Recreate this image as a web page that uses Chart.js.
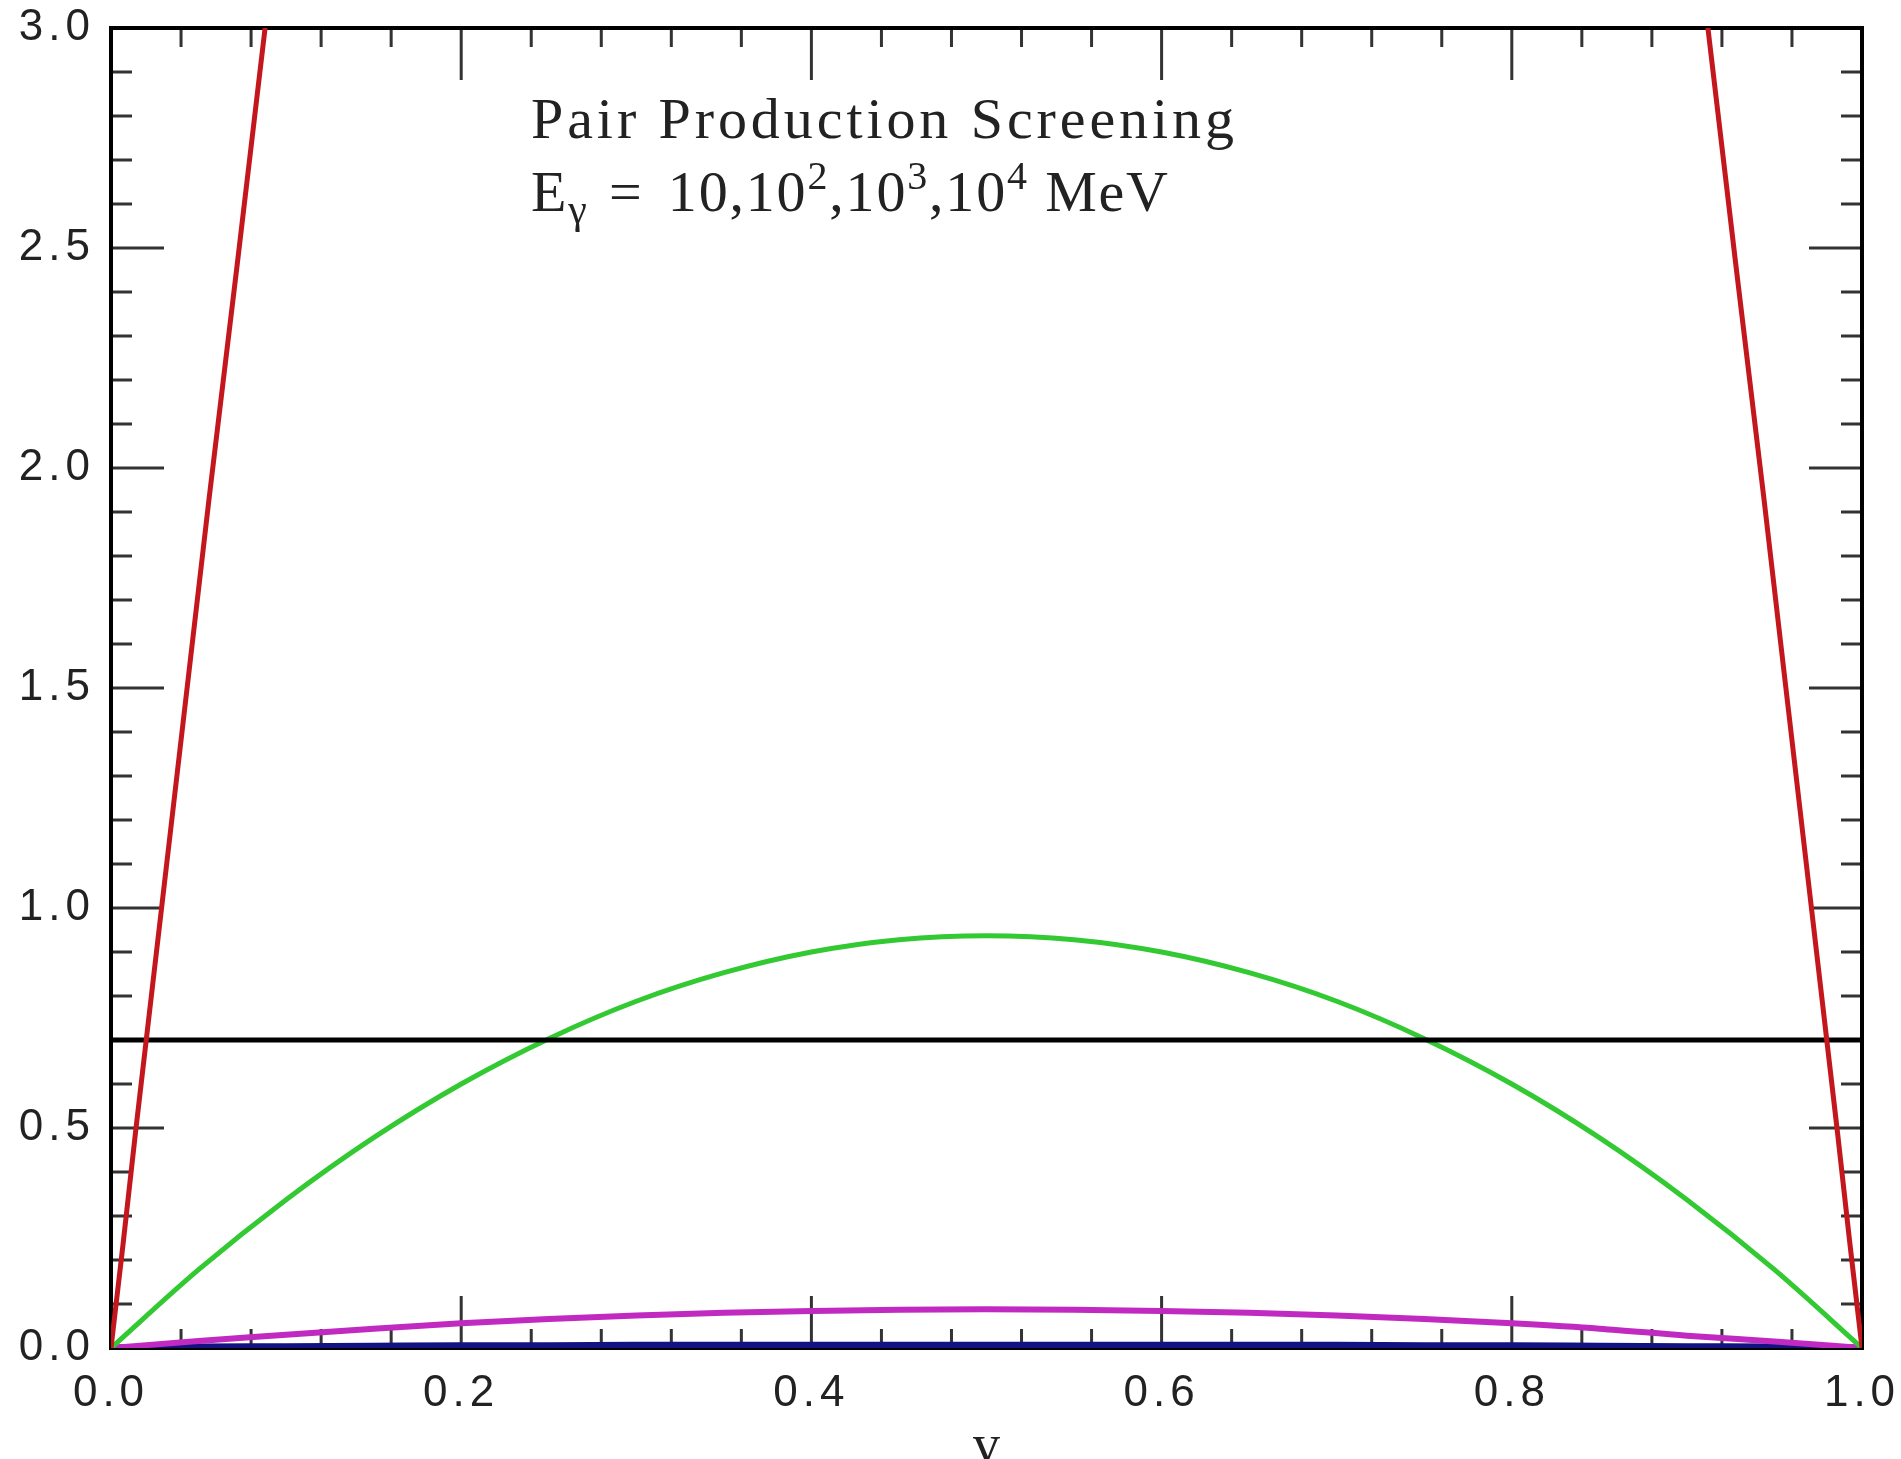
<!DOCTYPE html>
<html>
<head>
<meta charset="utf-8">
<script src="https://cdn.jsdelivr.net/npm/chart.js@4.4.1/dist/chart.umd.min.js"></script>
<style>
  html, body { margin: 0; padding: 0; background: #fff; }
  #wrap { width: 1901px; height: 1459px; }
</style>
</head>
<body>
<div id="wrap"><canvas id="screening" width="1901" height="1459"></canvas></div>
<script>
// v sampled every 0.05 for the smooth curves
const vValues = [0, 0.05, 0.10, 0.15, 0.20, 0.25, 0.30, 0.35, 0.40, 0.45, 0.50,
                 0.55, 0.60, 0.65, 0.70, 0.75, 0.80, 0.85, 0.90, 0.95, 1.00];
const greenValues = [0, 0.178, 0.337, 0.478, 0.600, 0.703, 0.788, 0.853, 0.900, 0.928, 0.937,
                     0.928, 0.900, 0.853, 0.788, 0.703, 0.600, 0.478, 0.337, 0.178, 0];
const magentaValues = [0, 0.016, 0.030, 0.044, 0.056, 0.066, 0.074, 0.080, 0.084, 0.087, 0.088,
                       0.087, 0.084, 0.080, 0.074, 0.066, 0.056, 0.044, 0.028, 0.015, 0];
const blueValues = [0, 0.002, 0.003, 0.004, 0.005, 0.005, 0.006, 0.006, 0.006, 0.006, 0.006,
                    0.006, 0.006, 0.006, 0.006, 0.005, 0.005, 0.004, 0.003, 0.002, 0];

// red curve runs off the top, only the two steep edges are visible
const redV = [0, 0.007, 0.014, 0.028, 0.042, 0.056, 0.072, 0.088, 0.095,
              0.5,
              0.905, 0.912, 0.928, 0.944, 0.958, 0.972, 0.986, 0.993, 1];
const redValues = [0, 0.24, 0.49, 0.97, 1.45, 1.93, 2.46, 3.00, 3.24,
                   null,
                   3.24, 3.00, 2.46, 1.93, 1.45, 0.97, 0.49, 0.24, 0];

const refLevel = 0.7;

const xTickLabels = ["0.0", "0.2", "0.4", "0.6", "0.8", "1.0"];
const yTickLabels = ["0.0", "0.5", "1.0", "1.5", "2.0", "2.5", "3.0"];

const toPoints = (xs, ys) => xs.map((x, i) => ({ x: x, y: ys[i] }));

function drawSpaced(ctx, text, x, y, spacing) {
  for (const ch of text) {
    ctx.fillText(ch, x, y);
    x += ctx.measureText(ch).width + spacing;
  }
  return x;
}

// labels overflowing the plot should not push the plot box around
const noOverflow = (s) => {
  s.paddingLeft = 0; s.paddingRight = 0; s.paddingTop = 0; s.paddingBottom = 0;
};

// frame and inward ticks on all four sides, under the curves
const frameTicks = {
  id: "frameTicks",
  beforeDraw(chart) {
    chart.ctx.letterSpacing = "5px";
  },
  beforeDatasetsDraw(chart) {
    const ctx = chart.ctx;
    const a = chart.chartArea;
    const xs = chart.scales.x;
    const ys = chart.scales.y;
    ctx.save();
    ctx.strokeStyle = "#333";
    ctx.lineWidth = 3;
    ctx.beginPath();
    for (let k = 0; k <= 25; k++) {
      const px = xs.getPixelForValue(k * 0.04);
      const len = k % 5 === 0 ? 52 : 19;
      ctx.moveTo(px, a.bottom); ctx.lineTo(px, a.bottom - len);
      ctx.moveTo(px, a.top); ctx.lineTo(px, a.top + len);
    }
    for (let k = 0; k <= 30; k++) {
      const py = ys.getPixelForValue(k * 0.1);
      const len = k % 5 === 0 ? 53 : 21;
      ctx.moveTo(a.left, py); ctx.lineTo(a.left + len, py);
      ctx.moveTo(a.right, py); ctx.lineTo(a.right - len, py);
    }
    ctx.stroke();

    ctx.strokeStyle = "#000";
    ctx.lineWidth = 4;
    ctx.strokeRect(a.left, a.top, a.right - a.left, a.bottom - a.top);
    ctx.restore();
  },
  afterDatasetsDraw(chart) {
    const ctx = chart.ctx;
    const xs = chart.scales.x;
    ctx.save();
    ctx.letterSpacing = "0px";
    // caption in the upper part of the plot
    ctx.fillStyle = "#222";
    ctx.textBaseline = "alphabetic";
    ctx.font = "58px 'Liberation Serif'";
    const line1 = "Pair Production Screening";
    const sp = (703 - ctx.measureText(line1).width) / (line1.length - 1);
    drawSpaced(ctx, line1, 531, 138, sp);

    const parts = [
      ["E", 0, 58], ["\u03b3", 12, 42], [" = ", 0, 58], ["10,10", 0, 58], ["2", -22, 40],
      [",10", 0, 58], ["3", -22, 40], [",10", 0, 58], ["4", -22, 40], [" MeV", 0, 58]
    ];
    // squeeze the second line to the width it has in the original
    let natural = 0, nChars = 0;
    for (const [txt, , size] of parts) {
      ctx.font = size + "px 'Liberation Serif'";
      natural += ctx.measureText(txt).width;
      nChars += txt.length;
    }
    const sp2 = (633 - natural - 8) / (nChars - 1);
    let cx = 531;
    const base2 = 211;
    for (const [txt, dy, size] of parts) {
      ctx.font = size + "px 'Liberation Serif'";
      cx = drawSpaced(ctx, txt, cx, base2 + dy, txt === " = " ? sp2 + 4 : sp2);
    }

    // axis label, cut by the bottom edge as in the original
    ctx.font = "54px 'Liberation Serif'";
    ctx.textAlign = "center";
    ctx.fillText("v", xs.getPixelForValue(0.5), 1462);
    ctx.restore();
  }
};

const ctx = document.getElementById("screening").getContext("2d");
new Chart(ctx, {
  type: "line",
  data: {
    datasets: [
      { label: "ref", data: [{ x: 0, y: refLevel }, { x: 1, y: refLevel }],
        borderColor: "#000", borderWidth: 5, order: 1 },
      { label: "10 MeV", data: toPoints(redV, redValues),
        borderColor: "#c4161d", borderWidth: 5, spanGaps: false, order: 0 },
      { label: "100 MeV", data: toPoints(vValues, greenValues),
        borderColor: "#33c933", borderWidth: 5, cubicInterpolationMode: "monotone", order: 2 },
      { label: "1000 MeV", data: toPoints(vValues, magentaValues),
        borderColor: "#c02ac0", borderWidth: 6, cubicInterpolationMode: "monotone", order: 3 },
      { label: "10000 MeV", data: toPoints(vValues, blueValues),
        borderColor: "#121284", borderWidth: 7, cubicInterpolationMode: "monotone", order: 4 }
    ]
  },
  options: {
    responsive: false,
    animation: false,
    devicePixelRatio: 1,
    layout: { padding: { top: 28, right: 39, left: 0, bottom: 0 } },
    elements: { point: { radius: 0 } },
    plugins: { legend: { display: false }, tooltip: { enabled: false } },
    scales: {
      x: {
        type: "linear", min: 0, max: 1,
        grid: { display: false, drawTicks: false },
        border: { display: false },
        ticks: {
          stepSize: 0.2, padding: 19, color: "#222", maxRotation: 0, autoSkip: false,
          font: { family: "'Liberation Sans'", size: 44 },
          callback: (v, i) => xTickLabels[i]
        },
        afterFit: (s) => { s.height = 111; noOverflow(s); }
      },
      y: {
        type: "linear", min: 0, max: 3,
        grid: { display: false, drawTicks: false },
        border: { display: false },
        ticks: {
          stepSize: 0.5, padding: 16, color: "#222", autoSkip: false,
          font: { family: "'Liberation Sans'", size: 44 },
          callback: (v, i) => yTickLabels[i]
        },
        afterFit: (s) => { s.width = 111; noOverflow(s); }
      }
    }
  },
  plugins: [frameTicks]
});
</script>
</body>
</html>
